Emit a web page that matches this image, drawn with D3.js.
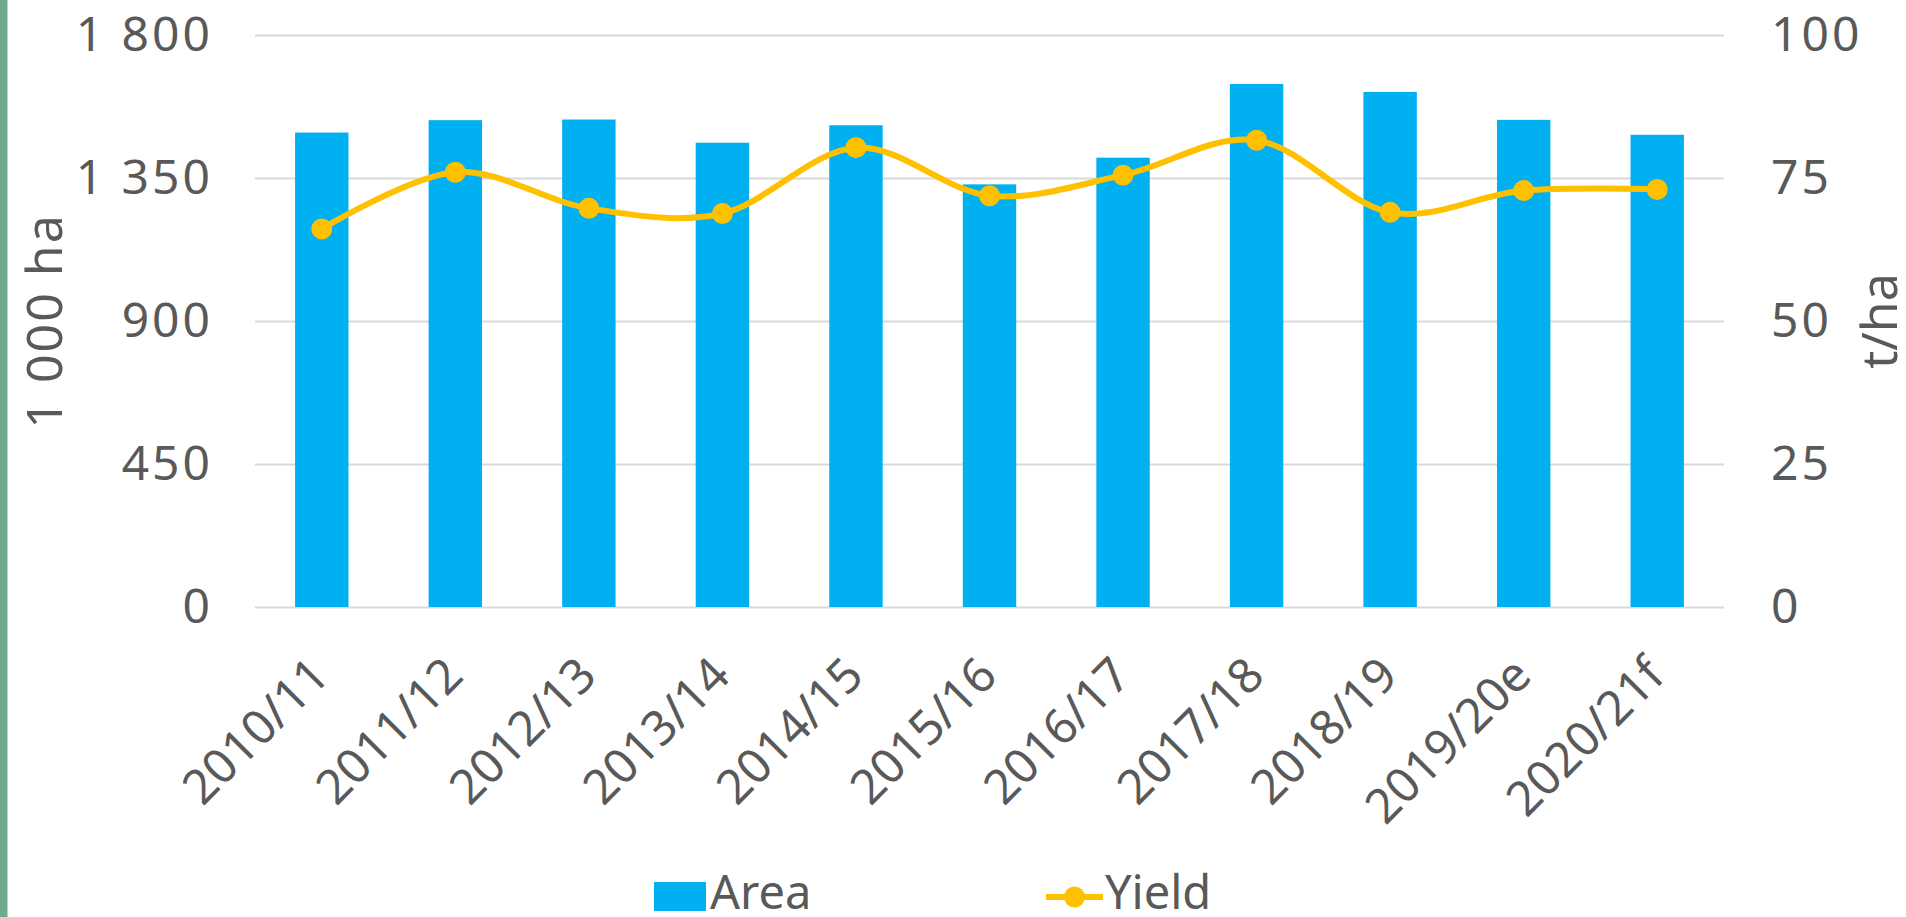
<!DOCTYPE html>
<html>
<head>
<meta charset="utf-8">
<script src="https://cdn.jsdelivr.net/npm/d3@7"></script>
<style>
  body { margin: 0; background: #fff; }
  svg text { font-family: "Noto Sans", "Open Sans", sans-serif; fill: #595959; }
</style>
</head>
<body>
<div id="chart"></div>
<script>
// values
var categories = ["2010/11", "2011/12", "2012/13", "2013/14", "2014/15", "2015/16",
                  "2016/17", "2017/18", "2018/19", "2019/20e", "2020/21f"];
var area = [1493, 1532, 1534, 1461, 1516, 1330, 1414, 1646, 1621, 1533, 1486];
var yieldVals = [66.1, 76.0, 69.7, 68.8, 80.3, 71.9, 75.5, 81.6, 69.0, 72.8, 73.0];
var leftTicks = [0, 450, 900, 1350, 1800];
var rightTicks = [0, 25, 50, 75, 100];

var svgWidth = 1906;
var svgHeight = 917;

var margin = {top: 35, right: 182, bottom: 310, left: 255};
var width = svgWidth - margin.left - margin.right;
var height = svgHeight - margin.top - margin.bottom;

var fmt = d3.formatLocale({decimal: ",", thousands: " ", grouping: [3], currency: ["", ""]}).format(",d");

var xscale = d3.scaleBand().domain(categories).range([0, width]).paddingInner(0.6).paddingOuter(0.3);
var yLeft = d3.scaleLinear().domain([0, 1800]).range([height, 0]);
var yRight = d3.scaleLinear().domain([0, 100]).range([height, 0]);

var svg = d3.select("#chart")
    .append("svg")
    .attr("width", svgWidth)
    .attr("height", svgHeight);

// green strip on the left edge
svg.append("rect")
    .attr("x", 0).attr("y", 0)
    .attr("width", 7.5).attr("height", svgHeight)
    .attr("fill", "#6fac8e");

var chartGroup = svg.append("g")
    .attr("transform", `translate(${margin.left}, ${margin.top})`);

// gridlines
chartGroup.append("g")
    .call(d3.axisLeft(yLeft).tickValues(leftTicks).tickSize(-width).tickFormat(""))
    .call(g => g.select(".domain").remove())
    .call(g => g.selectAll("line").attr("stroke", "#d9d9d9").attr("stroke-width", 2));

// left axis labels
chartGroup.append("g")
    .call(d3.axisLeft(yLeft).tickValues(leftTicks).tickSize(0).tickPadding(42).tickFormat(fmt))
    .call(g => g.select(".domain").remove())
    .call(g => g.selectAll("text").attr("font-size", "48px").attr("letter-spacing", "3px"));

// right axis labels
chartGroup.append("g")
    .attr("transform", `translate(${width},0)`)
    .call(d3.axisRight(yRight).tickValues(rightTicks).tickSize(0).tickPadding(47))
    .call(g => g.select(".domain").remove())
    .call(g => g.selectAll("text").attr("font-size", "48px").attr("letter-spacing", "3px"));

// bars
chartGroup.selectAll(".bar")
    .data(categories)
    .enter()
    .append("rect")
    .attr("class", "bar")
    .attr("x", d => xscale(d))
    .attr("y", (d, i) => yLeft(area[i]))
    .attr("width", xscale.bandwidth())
    .attr("height", (d, i) => height - yLeft(area[i]))
    .attr("fill", "#00b0f0");

// yield line
var cx = d => xscale(d) + xscale.bandwidth() / 2;
var line = d3.line()
    .x(d => cx(d))
    .y((d, i) => yRight(yieldVals[i]))
    .curve(d3.curveCatmullRom.alpha(0));

chartGroup.append("path")
    .datum(categories)
    .attr("d", line)
    .attr("fill", "none")
    .attr("stroke", "#ffc000")
    .attr("stroke-width", 6);

chartGroup.selectAll(".dot")
    .data(categories)
    .enter()
    .append("circle")
    .attr("class", "dot")
    .attr("cx", d => cx(d))
    .attr("cy", (d, i) => yRight(yieldVals[i]))
    .attr("r", 10.5)
    .attr("fill", "#ffc000");

// category labels
categories.forEach(function(d){
    chartGroup.append("text")
        .attr("transform", `translate(${cx(d) + 10},${height + 71}) rotate(-45)`)
        .attr("text-anchor", "end")
        .attr("font-size", "48px")
        .text(d);
});

// axis titles
svg.append("text")
    .attr("transform", `translate(62,${margin.top + height / 2}) rotate(-90)`)
    .attr("text-anchor", "middle")
    .attr("font-size", "50px")
    .attr("letter-spacing", "2px")
    .text("1 000 ha");

svg.append("text")
    .attr("transform", `translate(1897,${margin.top + height / 2}) rotate(-90)`)
    .attr("text-anchor", "middle")
    .attr("font-size", "50px")
    .text("t/ha");

// legend
var legend = svg.append("g");
legend.append("rect")
    .attr("x", 654).attr("y", 882)
    .attr("width", 52).attr("height", 29)
    .attr("fill", "#00b0f0");
legend.append("text")
    .attr("x", 710).attr("y", 909)
    .attr("font-size", "47px")
    .text("Area");
legend.append("line")
    .attr("x1", 1046).attr("x2", 1103)
    .attr("y1", 897).attr("y2", 897)
    .attr("stroke", "#ffc000")
    .attr("stroke-width", 6);
legend.append("circle")
    .attr("cx", 1074.5).attr("cy", 897)
    .attr("r", 10.5)
    .attr("fill", "#ffc000");
legend.append("text")
    .attr("x", 1105).attr("y", 909)
    .attr("font-size", "47px")
    .text("Yield");
</script>
</body>
</html>
